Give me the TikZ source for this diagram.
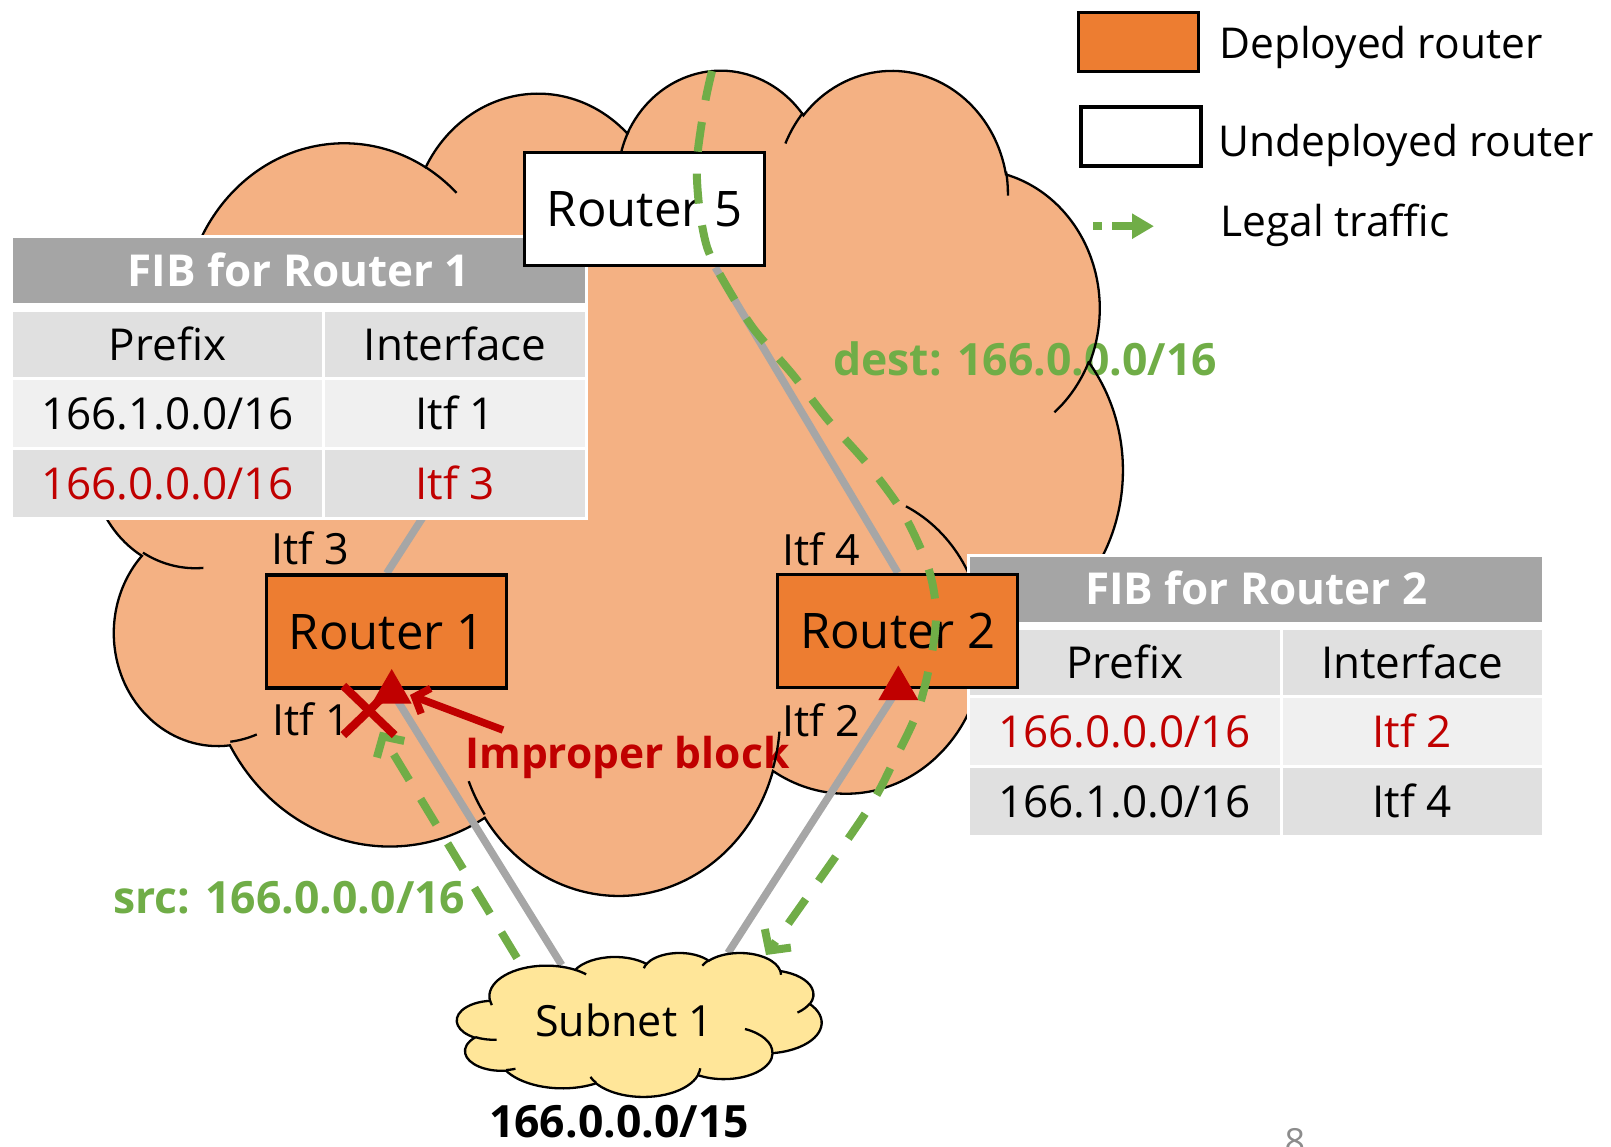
\documentclass[tikz,border=0pt]{standalone}
\usepackage{fontspec}
\setmainfont{Open Sans}
\usetikzlibrary{arrows.meta,calc,shapes.geometric,shapes.misc}

\definecolor{cloudfill}{HTML}{F4B183}
\definecolor{routerfill}{HTML}{ED7D31}
\definecolor{subnetfill}{HTML}{FFE699}
\definecolor{linkgray}{HTML}{A6A6A6}
\definecolor{legalgreen}{HTML}{70AD47}
\definecolor{blockred}{HTML}{C00000}
\definecolor{headgray}{HTML}{A5A5A5}
\definecolor{rowdark}{HTML}{E0E0E0}
\definecolor{rowlight}{HTML}{F0F0F0}
\definecolor{pagegray}{HTML}{8C8C8C}

\pgfdeclarelayer{netlayer}
\pgfdeclarelayer{tablelayer}
\pgfsetlayers{netlayer,tablelayer,main}

% Office-style cloud, drawn in a 43.2 x 43.2 box (y pointing down)
\newcommand\cloudoutline[1]{%
  \path[#1] (3.900,14.370)
    arc[start angle=-187.746, delta angle=128.110, x radius=6.753, y radius=9.190]
    arc[start angle=-152.038, delta angle=106.591, x radius=5.333, y radius=7.267]
    arc[start angle=-153.492, delta angle=116.184, x radius=4.365, y radius=5.945]
    arc[start angle=-139.715, delta angle=129.503, x radius=4.857, y radius=6.595]
    arc[start angle=-74.768,  delta angle=97.977,  x radius=5.333, y radius=7.273]
    arc[start angle=-37.515,  delta angle=119.377, x radius=6.775, y radius=9.220]
    arc[start angle=0.460,    delta angle=121.518, x radius=5.785, y radius=7.867]
    arc[start angle=16.845,   delta angle=129.383, x radius=6.752, y radius=9.215]
    arc[start angle=58.982,   delta angle=91.201,  x radius=7.720, y radius=10.543]
    arc[start angle=83.306,   delta angle=139.814, x radius=4.360, y radius=5.918]
    arc[start angle=120.354,  delta angle=143.758, x radius=4.345, y radius=5.945]
    -- cycle;}
% the short inner strokes between the lobes
\newcommand\cloudcreases[1]{%
  \path[#1]
    (4.693,26.177)  arc[start angle=85.546,   delta angle=34.808, x radius=4.345, y radius=5.945]
    (6.928,34.899)  arc[start angle=68.236,   delta angle=15.070, x radius=4.360, y radius=5.918]
    (16.478,39.090) arc[start angle=146.228,  delta angle=12.245, x radius=6.752, y radius=9.215]
    (28.827,34.751) arc[start angle=4.738,    delta angle=12.107, x radius=6.752, y radius=9.215]
    (34.129,22.954) arc[start angle=-64.033,  delta angle=64.493, x radius=5.785, y radius=7.867]
    (41.798,15.354) arc[start angle=23.209,   delta angle=26.427, x radius=5.333, y radius=7.273]
    (38.324,5.426)  arc[start angle=-10.212,  delta angle=11.033, x radius=4.857, y radius=6.595]
    (29.078,3.952)  arc[start angle=-156.291, delta angle=16.576, x radius=4.857, y radius=6.595]
    (22.141,4.720)  arc[start angle=-167.726, delta angle=14.234, x radius=4.365, y radius=5.945]
    (14.000,5.192)  arc[start angle=-59.636,  delta angle=13.909, x radius=6.753, y radius=9.190]
    (4.127,15.789)  arc[start angle=163.196,  delta angle=9.058,  x radius=6.753, y radius=9.190];}

\newcommand\fibfont{\fontsize{44}{52}\selectfont}
\newcommand\routerfont{\fontsize{49}{58}\selectfont}
\newcommand\itffont{\fontsize{43}{50}\selectfont}
\newcommand\lgdfont{\fontsize{42.5}{50}\selectfont}
\newcommand\boldlbl{\fontsize{44.5}{52}\selectfont\bfseries}

\tikzset{
  cloudline/.style={draw=black, line width=2.3pt},
  router/.style={draw=black, line width=3.3pt, minimum width=240pt,
    minimum height=113pt, inner sep=0pt, font=\routerfont,
    text height=35pt, text depth=0pt},
  link/.style={draw=linkgray, line width=7.5pt},
  legal/.style={draw=legalgreen, line width=8pt, dash pattern=on 30pt off 22pt,
    -{Straight Barb[length=15pt, width=32pt]}},
  blockmark/.style={fill=blockred, regular polygon, regular polygon sides=3,
    minimum size=46pt, inner sep=0pt},
  cell/.style={anchor=north west, inner sep=0pt, outer sep=0pt, font=\fibfont,
    text height=31.4pt, text depth=0pt},
  itf/.style={anchor=base west, inner sep=0pt, font=\itffont},
  legendtext/.style={anchor=base west, inner sep=0pt, font=\lgdfont},
  legendbox/.style={draw=black, line width=3.3pt, minimum width=120pt,
    minimum height=59pt, inner sep=0pt},
}

\begin{document}
\begin{tikzpicture}[x=1pt, y=-1pt]
\useasboundingbox (0,0) rectangle (1611,1147);
\clip (0,0) rectangle (1611,1147);

% routers (top layer)
\node[router, fill=routerfill] (r1) at (386.7,631.5) {Router 1};
\node[router, fill=routerfill] (r2) at (897.8,631) {Router 2};
\node[router, fill=white] (r5) at (644.7,209.3) {Router 5};

% subnet attachment points
\coordinate (snL) at (561.7,965);
\coordinate (snR) at (728,953);

\begin{pgfonlayer}{netlayer}
  % network cloud: fill first
  \begin{scope}[shift={(91.4,68)}, x=23.867pt, y=-19.096pt]
    \cloudoutline{fill=cloudfill}
  \end{scope}
  % labels lying under the cloud border
  \node[anchor=base west, inner sep=0pt, font=\boldlbl, text=legalgreen] (destlbl)
    at (833,375) {dest: 166.0.0.0/16};
  \node[anchor=base west, inner sep=0pt, font=\fontsize{42.5}{50}\selectfont\bfseries,
    text=blockred] (blocklbl) at (465,768.3) {Improper block};
  % cloud border and creases
  \begin{scope}[shift={(91.4,68)}, x=23.867pt, y=-19.096pt]
    \cloudoutline{cloudline}
    \cloudcreases{cloudline}
  \end{scope}
  % links
  \draw[link] (r1.north) -- ($(r5.south west)!0.25!(r5.south east)$);
  \draw[link] ($(r5.south west)!0.79!(r5.south east)$) -- (r2.north);
  \draw[link] ($(r1.south)+(4,0)$) -- (snL);
  \draw[link] (r2.south) -- (snR);
  % subnet cloud
  \begin{scope}[shift={(457,952.5)}, x=8.438pt, y=-3.332pt]
    \cloudoutline{fill=subnetfill}
    \cloudoutline{cloudline}
    \cloudcreases{cloudline}
  \end{scope}
\end{pgfonlayer}

\begin{pgfonlayer}{tablelayer}
  % FIB of router 1
  \begin{scope}[shift={(12.8,238.3)}]
    \fill[white] (-3,-3) rectangle (575.2,281.5);
    \node[cell, fill=headgray, minimum width=572.2pt, minimum height=65pt, text=white,
      font=\fibfont\bfseries] (f1head) at (0,0) {FIB for Router 1};
    \node[cell, fill=rowdark, minimum width=309.5pt, minimum height=65pt] (f1pfx) at (0,73.5) {Prefix};
    \node[cell, fill=rowdark, minimum width=259.7pt, minimum height=65pt] (f1itf) at (312.5,73.5) {Interface};
    \node[cell, fill=rowlight, minimum width=309.5pt, minimum height=67pt] (f1a) at (0,141.5) {166.1.0.0/16};
    \node[cell, fill=rowlight, minimum width=259.7pt, minimum height=67pt] (f1b) at (312.5,141.5) {Itf 1};
    \node[cell, fill=rowdark, minimum width=309.5pt, minimum height=67pt, text=blockred] (f1c) at (0,211.5) {166.0.0.0/16};
    \node[cell, fill=rowdark, minimum width=259.7pt, minimum height=67pt, text=blockred] (f1d) at (312.5,211.5) {Itf 3};
  \end{scope}
  % FIB of router 2
  \begin{scope}[shift={(970,556.7)}]
    \fill[white] (-3,-3) rectangle (575.2,281.5);
    \node[cell, fill=headgray, minimum width=572.2pt, minimum height=65pt, text=white,
      font=\fibfont\bfseries] (f2head) at (0,0) {FIB for Router 2};
    \node[cell, fill=rowdark, minimum width=309.5pt, minimum height=65pt] (f2pfx) at (0,73.5) {Prefix};
    \node[cell, fill=rowdark, minimum width=259.7pt, minimum height=65pt] (f2itf) at (312.5,73.5) {Interface};
    \node[cell, fill=rowlight, minimum width=309.5pt, minimum height=67pt, text=blockred] (f2a) at (0,141.5) {166.0.0.0/16};
    \node[cell, fill=rowlight, minimum width=259.7pt, minimum height=67pt, text=blockred] (f2b) at (312.5,141.5) {Itf 2};
    \node[cell, fill=rowdark, minimum width=309.5pt, minimum height=67pt] (f2c) at (0,211.5) {166.1.0.0/16};
    \node[cell, fill=rowdark, minimum width=259.7pt, minimum height=67pt] (f2d) at (312.5,211.5) {Itf 4};
  \end{scope}
\end{pgfonlayer}

% subnet labels
\node[anchor=base, inner sep=0pt, font=\itffont] (subnet) at (624,1036.7) {Subnet 1};
\node[anchor=base, inner sep=0pt, font=\fontsize{44.5}{54}\selectfont\bfseries] (snprefix)
  at (619,1137) {166.0.0.0/15};

% legal traffic
\coordinate (srcfrom) at (517,958);
\coordinate (srcto) at (380,731.7);
\draw[legal] (srcfrom) -- (srcto);
\coordinate (destfrom) at (712,71);
\coordinate (destto) at (766,955);
\draw[legal] plot[smooth, tension=0.5] coordinates {(destfrom) (705,103) (697,160)
  (699,205) (707,247) (723,280) (753,328) (793,375) (828,420) (868,465) (903,513)
  (928,567) (936,610) (932,653) (918,710) (893,763) (863,817) (destto)};

% filters and the wrong block
\node[blockmark] (tri1) at (391.7,692) {};
\node[blockmark] (tri2) at (898.3,688.5) {};
\node[cross out, draw=blockred, line width=8.3pt, minimum width=43pt,
  minimum height=41pt, inner sep=0pt] (xmark) at (369,710.5) {};
\coordinate (blkfrom) at (503,730);
\coordinate (blkto) at (410,695);
\draw[blockred, line width=7.5pt, -{Straight Barb[length=12pt, width=27pt]}]
  (blkfrom) -- (blkto);

% interface labels
\node[itf] (itf3) at (271,564) {Itf 3};
\node[itf] (itf1) at (272,735) {Itf 1};
\node[itf] (itf4) at (782.5,565) {Itf 4};
\node[itf] (itf2) at (782.5,736.7) {Itf 2};

\node[anchor=base west, inner sep=0pt, font=\boldlbl, text=legalgreen] (srclbl)
  at (113,913.3) {src: 166.0.0.0/16};

% legend
\node[legendbox, fill=routerfill] (lgdep) at (1138.7,42.2) {};
\node[legendbox, fill=white] (lgundep) at (1141,136.5) {};
\coordinate (lgfrom) at (1093,226.2);
\coordinate (lgto) at (1154,226.2);
\draw[legalgreen, line width=8.5pt, dash pattern=on 9pt off 10pt on 22pt off 10pt,
  -{Triangle[length=22pt, width=24pt]}] (lgfrom) -- (lgto);
\node[legendtext] (lgdeptxt) at (1219,59) {Deployed router};
\node[legendtext] (lgundeptxt) at (1218,157) {Undeployed router};
\node[legendtext] (lglegaltxt) at (1220,236.4) {Legal traffic};

% page number
\node[anchor=base, inner sep=0pt, font=\fontsize{36}{40}\selectfont, text=pagegray]
  (pageno) at (1295,1154) {8};
\end{tikzpicture}
\end{document}
